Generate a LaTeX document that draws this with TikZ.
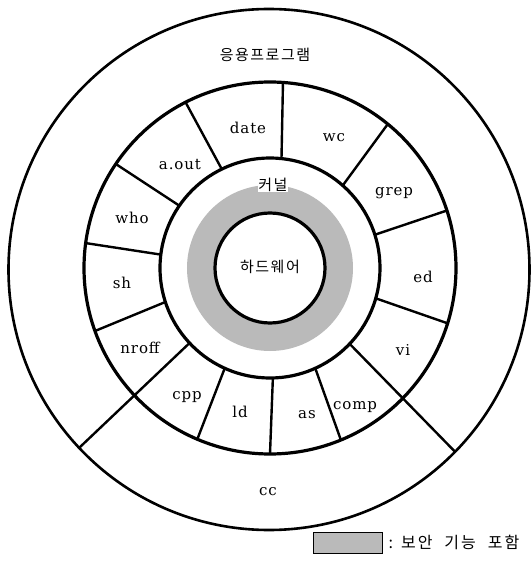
\documentclass[tikz,border=0pt]{standalone}
\usepackage{fontspec}
\setmainfont{DejaVu Serif}
\newfontfamily\progfont{DejaVu Serif}[LetterSpace=6]
\newfontfamily\kofont{Noto Sans CJK KR}[LetterSpace=10]
\usetikzlibrary{positioning}

\begin{document}
\begin{tikzpicture}[
  x=1pt, y=1pt,
  ring/.style={line width=3.2pt},
  divider/.style={line width=2.4pt},
  secure/.style={fill=black!27},
  prog/.style={font=\progfont\fontsize{15}{18}\selectfont, inner sep=1pt},
  hangul/.style={font=\kofont\fontsize{15}{18}\selectfont, inner sep=1pt}
]
\useasboundingbox (-270,-297) rectangle (262,268);

% kernel with security functions
\fill[secure] (0,0) circle (83);
\draw[ring, fill=white] (0,0) circle (55);
\draw[ring] (0,0) circle (110);
\draw[ring] (0,0) circle (186);
\draw[line width=2.6pt] (-1,-1.5) circle (260.5);

% commands around the kernel
\draw[divider] (84:110) -- (86:186);
\draw[divider] (116:110) -- (117:186);
\draw[divider] (145.5:110) -- (146:186);
\draw[divider] (173:110) -- (172.3:186);
\draw[divider] (198:110) -- (199.8:186);
\draw[divider] (223:110) -- (223.3:262);
\draw[divider] (245.7:110) -- (247:186);
\draw[divider] (271.5:110) -- (270:186);
\draw[divider] (294.3:110) -- (292.4:186);
\draw[divider] (316.4:110) -- (315.2:260.5);
\draw[divider] (344:110) -- (342.7:186);
\draw[divider] (17.6:110) -- (18:186);
\draw[divider] (48.6:110) -- (50.7:186);

\node[hangul] (hw) at (0,1) {하드웨어};
\node[hangul, fill=white, inner sep=0.5pt] (kernel) at (3,83) {커널};
\node[hangul] (apps) at (-5,213) {응용프로그램};

\node[prog] (date) at (-22,140) {date};
\node[prog] (wc) at (64,130) {wc};
\node[prog] (aout) at (-90,103) {a.out};
\node[prog] (grep) at (124,75) {grep};
\node[prog] (who) at (-138,50) {who};
\node[prog] (sh) at (-148,-15) {sh};
\node[prog] (ed) at (153,-9) {ed};
\node[prog] (nroff) at (-130,-80) {nroff};
\node[prog] (vi) at (133,-82) {vi};
\node[prog] (cpp) at (-83,-129) {cpp};
\node[prog] (ld) at (-30,-144) {ld};
\node[prog] (as) at (37,-147) {as};
\node[prog] (comp) at (85,-139) {comp};
\node[prog] (cc) at (-2,-224) {cc};

% legend
\node[secure, draw, line width=0.8pt, minimum width=69pt, minimum height=21pt] (key) at (77.5,-274.5) {};
\node[hangul, font=\kofont\fontsize{16}{18}\selectfont, right=5pt of key] (keytext)
  {:\kern 8pt 보\kern2pt 안\kern 12pt 기\kern2pt 능\kern 12pt 포\kern2pt 함};
\end{tikzpicture}
\end{document}
